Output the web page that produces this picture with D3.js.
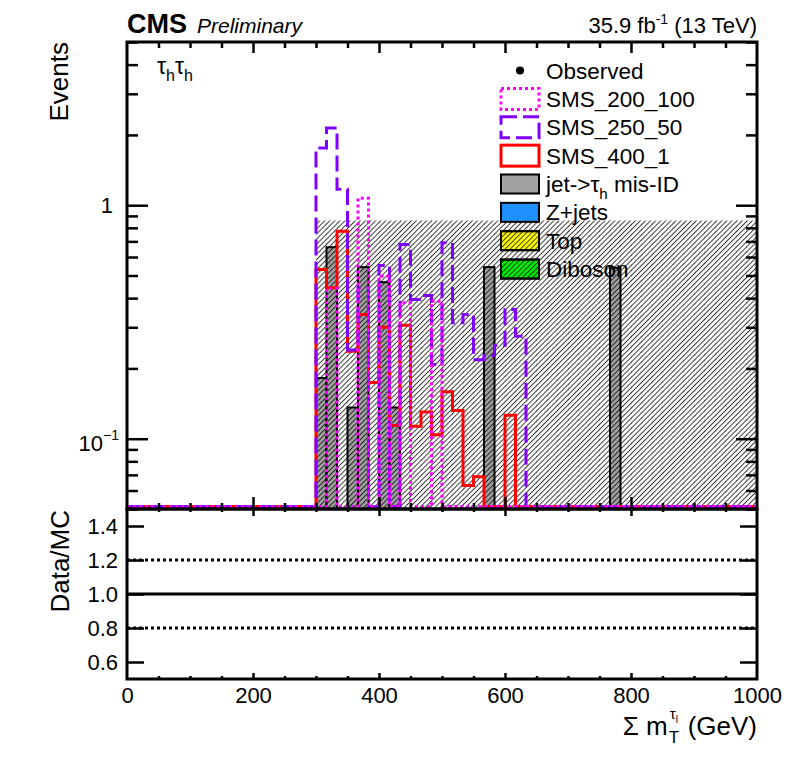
<!DOCTYPE html>
<html>
<head>
<meta charset="utf-8">
<script src="https://cdn.jsdelivr.net/npm/d3@7"></script>
<style>
  body { margin: 0; background: #fff; }
  text { font-family: "Liberation Sans", Arial, Helvetica, sans-serif; fill: #000; }
</style>
</head>
<body>
<div id="vis-holder"></div>
<script>
// Canvas size
const width = 798;
const height = 773;

// Frame of the two pads
const frame = { left: 127, right: 757, top: 42, split: 509, bottom: 679 };

// Binning: 60 bins from 0 to 1000 GeV
const xMin = 0, xMax = 1000, nBins = 60;

// Bin contents (Events), one value per bin
const jetFakes = [
  0, 0, 0, 0, 0, 0, 0, 0, 0, 0,
  0, 0, 0, 0, 0, 0, 0, 0, 0.182, 0.661,
  0, 0.136, 0.543, 0, 0.468, 0.136, 0, 0, 0, 0,
  0, 0, 0, 0, 0.543, 0, 0, 0, 0, 0,
  0, 0, 0, 0, 0, 0, 0.54, 0, 0, 0,
  0, 0, 0, 0, 0, 0, 0, 0, 0, 0
];
const zJets   = new Array(60).fill(0);
const topBkg  = new Array(60).fill(0);
const diboson = new Array(60).fill(0);

const sms200_100 = [
  0, 0, 0, 0, 0, 0, 0, 0, 0, 0,
  0, 0, 0, 0, 0, 0, 0, 0, 0, 0.44,
  0, 0, 1.07, 0, 0.496, 0, 0.382, 0, 0, 0.388,
  0, 0, 0, 0, 0, 0, 0, 0, 0, 0,
  0, 0, 0, 0, 0, 0, 0, 0, 0, 0,
  0, 0, 0, 0, 0, 0, 0, 0, 0, 0
];
const sms250_50 = [
  0, 0, 0, 0, 0, 0, 0, 0, 0, 0,
  0, 0, 0, 0, 0, 0, 0, 0, 1.76, 2.14,
  1.17, 0.24, 0.443, 0, 0.552, 0, 0.679, 0.395, 0.41, 0.208,
  0.69, 0.314, 0.34, 0.218, 0.227, 0.251, 0.358, 0.275, 0, 0,
  0, 0, 0, 0, 0, 0, 0, 0, 0, 0,
  0, 0, 0, 0, 0, 0, 0, 0, 0, 0
];
const sms400_1 = [
  0, 0, 0, 0, 0, 0, 0, 0, 0, 0,
  0, 0, 0, 0, 0, 0, 0, 0, 0.531, 0.443,
  0.774, 0.237, 0.34, 0.174, 0.3, 0.114, 0.306, 0.113, 0.13, 0.104,
  0.159, 0.132, 0.063, 0.0687, 0, 0, 0.126, 0, 0, 0,
  0, 0, 0, 0, 0, 0, 0, 0, 0, 0,
  0, 0, 0, 0, 0, 0, 0, 0, 0, 0
];

// Upper edge of the hatched uncertainty band
const bandUp = [
  0, 0, 0, 0, 0, 0, 0, 0, 0, 0,
  0, 0, 0, 0, 0, 0, 0, 0, 0.86, 0.86,
  0.86, 0.86, 0.86, 0.86, 0.86, 0.86, 0.86, 0.86, 0.86, 0.86,
  0.86, 0.86, 0.86, 0.86, 0.86, 0.86, 0.86, 0.86, 0.86, 0.86,
  0.86, 0.86, 0.86, 0.86, 0.86, 0.86, 0.86, 0.86, 0.86, 0.86,
  0.86, 0.86, 0.86, 0.86, 0.86, 0.86, 0.86, 0.86, 0.86, 0.86
];

// Axis ticks
const xMajor = [0, 200, 400, 600, 800, 1000];
const xMinor = [50, 100, 150, 250, 300, 350, 450, 500, 550, 650, 700, 750, 850, 900, 950];
const yMajor = [0.1, 1];
const yMinor = [0.05, 0.06, 0.07, 0.08, 0.09, 0.2, 0.3, 0.4, 0.5, 0.6, 0.7, 0.8, 0.9, 2, 3, 4, 5];
const ratioTicks = [0.6, 0.8, 1.0, 1.2, 1.4];
const ratioLines = [0.8, 1.0, 1.2];

// Legend entries
const legendNames = ["Observed", "SMS_200_100", "SMS_250_50", "SMS_400_1",
                     "jet->τh mis-ID", "Z+jets", "Top", "Diboson"];

const yLo = 0.05, yHi = 5;

const svg = d3.select("#vis-holder")
  .append("svg")
  .attr("width", width)
  .attr("height", height);

// Hatch pattern (ROOT 3004 style)
const defs = svg.append("defs");
defs.append("pattern")
    .attr("id", "hatch")
    .attr("patternUnits", "userSpaceOnUse")
    .attr("width", 3.6)
    .attr("height", 3.6)
    .attr("patternTransform", "rotate(45)")
  .append("line")
    .attr("x1", 0.5).attr("y1", 0)
    .attr("x2", 0.5).attr("y2", 3.6)
    .attr("stroke", "#000")
    .attr("stroke-width", 0.75);

// Scales
const x = d3.scaleLinear().domain([xMin, xMax]).range([frame.left, frame.right]);
const y = d3.scaleLog().domain([yLo, yHi]).range([frame.split, frame.top]);
const yr = d3.scaleLinear().domain([0.5, 1.5]).range([frame.bottom, frame.split]);

const binW = (xMax - xMin) / nBins;
// empty bins are drawn just above the lower frame line
const yClamp = v => v > yLo ? y(v) : frame.split - 2.5;

// Clip for the upper pad
defs.append("clipPath").attr("id", "clipUp")
  .append("rect")
    .attr("x", frame.left).attr("y", frame.top)
    .attr("width", frame.right - frame.left)
    .attr("height", frame.split - frame.top);

const upper = svg.append("g").attr("clip-path", "url(#clipUp)");

// Stacked background: jet->tau fakes (only non-zero background)
const stackData = jetFakes.map((v, i) => ({ i: i, v: v + zJets[i] + topBkg[i] + diboson[i], fake: v }));
upper.selectAll(".bar")
  .data(stackData.filter(d => d.fake > 0))
  .enter()
  .append("rect")
    .attr("class", "bar")
    .attr("x", d => x(d.i * binW))
    .attr("y", d => y(d.fake))
    .attr("width", d => x((d.i + 1) * binW) - x(d.i * binW))
    .attr("height", d => frame.split - y(d.fake))
    .attr("fill", "#a0a0a0")
    .attr("stroke", "#000")
    .attr("stroke-width", 2);

// Hatched uncertainty band
upper.selectAll(".band")
  .data(bandUp.map((v, i) => ({ i: i, v: v })).filter(d => d.v > 0))
  .enter()
  .append("rect")
    .attr("class", "band")
    .attr("x", d => x(d.i * binW))
    .attr("y", d => y(d.v))
    .attr("width", d => x((d.i + 1) * binW) - x(d.i * binW) + 0.5)
    .attr("height", d => frame.split - y(d.v))
    .attr("fill", "url(#hatch)");

// Signal step lines
const stepLine = d3.line()
  .x(d => x(d.x))
  .y(d => yClamp(d.v))
  .curve(d3.curveStepAfter);

function stepData(vals) {
  const pts = vals.map((v, i) => ({ x: i * binW, v: v }));
  pts.push({ x: xMax, v: vals[vals.length - 1] });
  return pts;
}

const signals = [
  { vals: sms400_1,   color: "#ff0000", dash: null },
  { vals: sms250_50,  color: "#8000ff", dash: "16,6" },
  { vals: sms200_100, color: "#ff00ff", dash: "3,3" }
];

signals.forEach(s => {
  upper.append("path")
    .datum(stepData(s.vals))
    .attr("d", stepLine)
    .attr("fill", "none")
    .attr("stroke", s.color)
    .attr("stroke-width", 3)
    .attr("stroke-dasharray", s.dash);
});

// Ratio reference lines
svg.selectAll(".rline")
  .data(ratioLines)
  .enter()
  .append("line")
    .attr("x1", frame.left).attr("x2", frame.right)
    .attr("y1", d => yr(d)).attr("y2", d => yr(d))
    .attr("stroke", "#000")
    .attr("stroke-width", 3)
    .attr("stroke-dasharray", d => d === 1.0 ? null : "3,3");

// Axes (ticks only)
function ticks(axis, tx, ty) {
  svg.append("g")
    .attr("transform", `translate(${tx},${ty})`)
    .call(axis)
    .call(g => g.select(".domain").remove())
    .call(g => g.selectAll("line").attr("stroke-width", 2.5));
}

const xInner = xMajor.filter(v => v > 0 && v < 1000);

// upper pad
ticks(d3.axisBottom(x).tickValues(xInner).tickSize(-12).tickFormat(""), 0, frame.split);
ticks(d3.axisBottom(x).tickValues(xMinor).tickSize(-6).tickFormat(""), 0, frame.split);
ticks(d3.axisTop(x).tickValues(xInner).tickSize(-11).tickFormat(""), 0, frame.top);
ticks(d3.axisTop(x).tickValues(xMinor).tickSize(-6).tickFormat(""), 0, frame.top);
ticks(d3.axisLeft(y).tickValues(yMajor).tickSize(-21).tickFormat(""), frame.left, 0);
ticks(d3.axisLeft(y).tickValues(yMinor).tickSize(-11).tickFormat(""), frame.left, 0);
ticks(d3.axisRight(y).tickValues(yMajor).tickSize(-21).tickFormat(""), frame.right, 0);
ticks(d3.axisRight(y).tickValues(yMinor).tickSize(-11).tickFormat(""), frame.right, 0);

// lower pad
ticks(d3.axisTop(x).tickValues(xInner).tickSize(-7).tickFormat(""), 0, frame.split);
ticks(d3.axisTop(x).tickValues(xMinor).tickSize(-3).tickFormat(""), 0, frame.split);
ticks(d3.axisBottom(x).tickValues(xInner).tickSize(-6).tickFormat(""), 0, frame.bottom);
ticks(d3.axisBottom(x).tickValues(xMinor).tickSize(-3).tickFormat(""), 0, frame.bottom);
ticks(d3.axisLeft(yr).tickValues(ratioTicks).tickSize(-17).tickFormat(""), frame.left, 0);
ticks(d3.axisRight(yr).tickValues(ratioTicks).tickSize(-17).tickFormat(""), frame.right, 0);

// x tick labels
svg.append("g")
  .attr("transform", `translate(0,${frame.bottom})`)
  .call(d3.axisBottom(x).tickValues(xMajor).tickSize(0).tickPadding(8).tickFormat(d3.format("d")))
  .call(g => g.select(".domain").remove())
  .call(g => g.selectAll("text")
              .attr("font-size", "22px")
              .attr("font-family", "Liberation Sans, Arial, sans-serif"));

// ratio tick labels
svg.append("g")
  .attr("transform", `translate(${frame.left},0)`)
  .call(d3.axisLeft(yr).tickValues(ratioTicks).tickSize(0).tickPadding(9).tickFormat(d3.format(".1f")))
  .call(g => g.select(".domain").remove())
  .call(g => g.selectAll("text")
              .attr("font-size", "22px")
              .attr("font-family", "Liberation Sans, Arial, sans-serif"));

// log axis labels
svg.append("text")
  .attr("x", 113).attr("y", y(1) + 8)
  .attr("text-anchor", "end")
  .attr("font-size", "22px")
  .text("1");
const tenth = svg.append("text")
  .attr("x", 119).attr("y", y(0.1) + 12)
  .attr("text-anchor", "end")
  .attr("font-size", "22px");
tenth.append("tspan").text("10");
tenth.append("tspan").attr("font-size", "14px").attr("dy", -11).text("−1");

// Frames
[[frame.top, frame.split], [frame.split, frame.bottom]].forEach(([t, b]) => {
  svg.append("rect")
    .attr("x", frame.left).attr("y", t)
    .attr("width", frame.right - frame.left)
    .attr("height", b - t)
    .attr("fill", "none")
    .attr("stroke", "#000")
    .attr("stroke-width", 3);
});

// Axis titles
svg.append("text")
  .attr("transform", `translate(68,${frame.top}) rotate(-90)`)
  .attr("text-anchor", "end")
  .attr("font-size", "26px")
  .text("Events");
svg.append("text")
  .attr("transform", `translate(69,${frame.split + 1}) rotate(-90)`)
  .attr("text-anchor", "end")
  .attr("font-size", "26px")
  .text("Data/MC");

// x title: Σ m_T^{τ_l} (GeV), right aligned at frame edge
{
  const base = 735;
  const g = svg.append("g");
  const t1 = g.append("text").attr("x", 0).attr("y", base).attr("font-size", "26px").text("Σ m");
  const w1 = t1.node().getComputedTextLength();
  const sub = g.append("text").attr("x", w1 + 1).attr("y", base + 8).attr("font-size", "17px").text("T");
  const sup = g.append("text").attr("x", w1 + 2).attr("y", base - 16).attr("font-size", "15px").text("τ");
  const wSup = sup.node().getComputedTextLength();
  g.append("text").attr("x", w1 + 2 + wSup).attr("y", base - 12).attr("font-size", "10px").text("l");
  const wSub = sub.node().getComputedTextLength();
  const t2 = g.append("text").attr("x", w1 + Math.max(wSub, wSup + 5) + 9).attr("y", base).attr("font-size", "26px").text("(GeV)");
  const total = w1 + Math.max(wSub, wSup + 5) + 9 + t2.node().getComputedTextLength();
  g.attr("transform", `translate(${frame.right - total},0)`);
}

// Header texts
svg.append("text")
  .attr("x", frame.left).attr("y", 33)
  .attr("font-size", "27px").attr("font-weight", "bold")
  .text("CMS");
svg.append("text")
  .attr("x", 197).attr("y", 33)
  .attr("font-size", "21px").attr("font-style", "italic")
  .text("Preliminary");
const lumi = svg.append("text")
  .attr("x", frame.right).attr("y", 33)
  .attr("text-anchor", "end")
  .attr("font-size", "22px");
lumi.append("tspan").text("35.9 fb");
lumi.append("tspan").attr("font-size", "14px").attr("dy", -9).text("-1");
lumi.append("tspan").attr("dy", 9).text(" (13 TeV)");

// Channel label
const chan = svg.append("text").attr("x", 157).attr("y", 74).attr("font-size", "23px");
chan.append("tspan").text("τ");
chan.append("tspan").attr("font-size", "16px").attr("dy", 7).text("h");
chan.append("tspan").attr("dy", -7).text("τ");
chan.append("tspan").attr("font-size", "16px").attr("dy", 7).text("h");

// Legend
const legY0 = 70.6, legDy = 28.35, boxX = 501, boxW = 38, textX = 546;
const legStyles = [
  { type: "marker" },
  { type: "line", color: "#ff00ff", dash: "3,3" },
  { type: "line", color: "#8000ff", dash: "16,6" },
  { type: "line", color: "#ff0000", dash: null },
  { type: "fill", color: "#a0a0a0" },
  { type: "fill", color: "#1e90ff" },
  { type: "fill", color: "#ffff00", hatch: true },
  { type: "fill", color: "#00ee00", hatch: true }
];

const leg = svg.append("g");
legendNames.forEach((name, i) => {
  const cy = legY0 + i * legDy;
  const st = legStyles[i];
  if (st.type === "marker") {
    leg.append("circle").attr("cx", boxX + boxW / 2).attr("cy", cy).attr("r", 4).attr("fill", "#000");
  } else if (st.type === "line") {
    leg.append("rect")
      .attr("x", boxX).attr("y", cy - 10.5)
      .attr("width", boxW).attr("height", 21)
      .attr("fill", "none")
      .attr("stroke", st.color)
      .attr("stroke-width", 3)
      .attr("stroke-dasharray", st.dash);
  } else {
    leg.append("rect")
      .attr("x", boxX).attr("y", cy - 9.5)
      .attr("width", boxW).attr("height", 19)
      .attr("fill", st.color)
      .attr("stroke", "#000")
      .attr("stroke-width", 2);
    if (st.hatch) {
      leg.append("rect")
        .attr("x", boxX).attr("y", cy - 9.5)
        .attr("width", boxW).attr("height", 19)
        .attr("fill", "url(#hatch)")
        .attr("stroke", "#000")
        .attr("stroke-width", 2);
    }
  }
  const t = leg.append("text")
    .attr("x", textX).attr("y", cy + 8)
    .attr("font-size", "22.5px");
  if (name.indexOf("τh") >= 0) {
    t.append("tspan").text("jet->τ");
    t.append("tspan").attr("font-size", "15px").attr("dy", 7).text("h");
    t.append("tspan").attr("dy", -7).text(" mis-ID");
  } else {
    t.text(name);
  }
});
</script>
</body>
</html>
